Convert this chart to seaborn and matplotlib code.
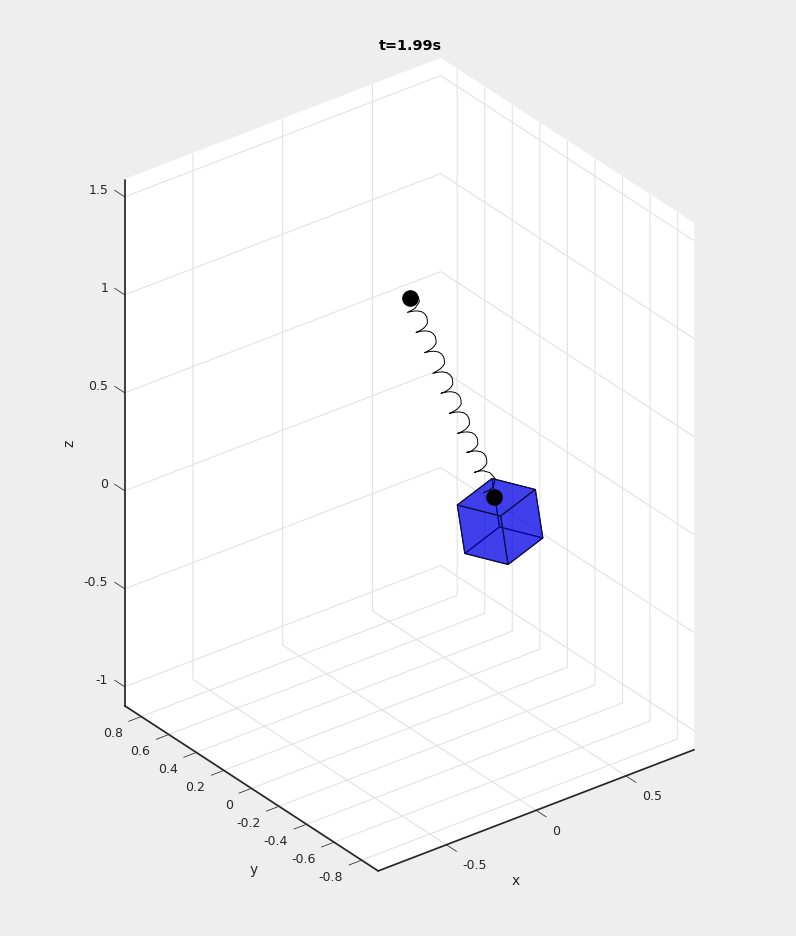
import matplotlib
matplotlib.use("Agg")
import matplotlib.pyplot as plt
import seaborn as sns
from mpl_toolkits.mplot3d import proj3d
from mpl_toolkits.mplot3d.art3d import Poly3DCollection

# spring, lying in the plane y=0
spring_x = [0.0498, 0.0554, 0.0312, -0.0115,
            0.0219, 0.0442, 0.0684, 0.0851, 0.0963, 0.1000, 0.1000, 0.0907, 0.0777, 0.0572, 0.0368,
            0.0702, 0.0925, 0.1167, 0.1334, 0.1446, 0.1483, 0.1483, 0.1390, 0.1260, 0.1055, 0.0833,
            0.1167, 0.1390, 0.1632, 0.1799, 0.1911, 0.1948, 0.1948, 0.1855, 0.1725, 0.1520, 0.1297,
            0.1631, 0.1854, 0.2096, 0.2263, 0.2375, 0.2412, 0.2412, 0.2319, 0.2189, 0.1984, 0.1762,
            0.2096, 0.2319, 0.2561, 0.2728, 0.2840, 0.2877, 0.2877, 0.2784, 0.2654, 0.2449, 0.2226,
            0.2560, 0.2783, 0.3025, 0.3192, 0.3304, 0.3341, 0.3341, 0.3248, 0.3118, 0.2913, 0.2691,
            0.3025, 0.3248, 0.3490, 0.3657, 0.3769, 0.3806, 0.3806, 0.3713, 0.3583, 0.3378, 0.3192,
            0.3526, 0.3749, 0.3991, 0.4158, 0.4270, 0.4307, 0.4307, 0.4214, 0.4084, 0.3879, 0.3620,
            0.3900, 0.4121, 0.4493, 0.4772, 0.4679, 0.4456, 0.4121]
spring_z = [1.0847, 1.0572, 1.0317, 1.0263,
            1.0213, 1.0144, 1.0016, 0.9855, 0.9663, 0.9480, 0.9310, 0.9206, 0.9133, 0.9086, 0.9073,
            0.9023, 0.8954, 0.8826, 0.8665, 0.8473, 0.8290, 0.8120, 0.8016, 0.7943, 0.7896, 0.7872,
            0.7822, 0.7753, 0.7625, 0.7464, 0.7272, 0.7089, 0.6919, 0.6815, 0.6742, 0.6695, 0.6654,
            0.6604, 0.6535, 0.6407, 0.6246, 0.6054, 0.5871, 0.5701, 0.5597, 0.5524, 0.5477, 0.5480,
            0.5430, 0.5361, 0.5233, 0.5072, 0.4880, 0.4697, 0.4527, 0.4423, 0.4350, 0.4303, 0.4286,
            0.4236, 0.4167, 0.4039, 0.3878, 0.3686, 0.3503, 0.3333, 0.3229, 0.3156, 0.3109, 0.3103,
            0.3053, 0.2984, 0.2856, 0.2695, 0.2503, 0.2320, 0.2150, 0.2046, 0.1973, 0.1926, 0.1956,
            0.1906, 0.1837, 0.1709, 0.1548, 0.1356, 0.1173, 0.1003, 0.0899, 0.0826, 0.0779, 0.0786,
            0.0760, 0.0694, 0.0462, 0.0074, -0.0318, -0.0409, -0.0429]
spring_y = [0.0] * len(spring_x)

# the two black balls
ball_x = [0.0045, 0.4735]
ball_y = [0.0, 0.0]
ball_z = [1.0940, -0.0849]

# cube corners
cube_x = [0.6081, 0.5837, 0.6663, 0.3681, 0.6419, 0.3437, 0.4263, 0.4019]
cube_y = [0.1385, 0.1610, -0.1001, 0.0776, -0.0776, 0.1001, -0.1610, -0.1385]
cube_z = [-0.3496, -0.1041, -0.3170, -0.3726, -0.0715, -0.1271, -0.3400, -0.0945]
cube_faces = [[0, 1, 4, 2], [0, 2, 6, 3], [0, 3, 5, 1],
              [7, 5, 1, 4], [7, 4, 2, 6], [7, 6, 3, 5]]

xticks = [-0.5, 0, 0.5]
yticks = [-0.8, -0.6, -0.4, -0.2, 0, 0.2, 0.4, 0.6, 0.8]
zticks = [-1, -0.5, 0, 0.5, 1, 1.5]
xticklabels = ["-0.5", "0", "0.5"]
yticklabels = ["-0.8", "-0.6", "-0.4", "-0.2", "0", "0.2", "0.4", "0.6", "0.8"]
zticklabels = ["-1", "-0.5", "0", "0.5", "1", "1.5"]
xlim = (-0.88, 0.88)
ylim = (-0.92, 0.92)
zlim = (-1.097, 1.587)

sns.set_theme(style="white", font="DejaVu Sans",
              rc={"figure.facecolor": "#EEEEEE", "text.color": "#262626"})

fig = plt.figure(figsize=(7.96, 9.36), dpi=100)
ax = fig.add_axes([0.65 / 796, 62.5 / 936, 1.0, 796 / 936], projection="3d",
                  proj_type="ortho", computed_zorder=False)
ax.view_init(elev=30, azim=-127.5)
ax.set_box_aspect((1.76, 1.84, 2.684), zoom=1.021)
ax.set_xlim(*xlim)
ax.set_ylim(*ylim)
ax.set_zlim(*zlim)
ax.set_xticks(xticks)
ax.set_yticks(yticks)
ax.set_zticks(zticks)
ax.patch.set_alpha(0)

# z ticks point along y in the original, not along x
ax.zaxis._get_tickdir = lambda pos: 1

for axis in [ax.xaxis, ax.yaxis, ax.zaxis]:
    axis.set_ticklabels([])
    axis.set_pane_color((1, 1, 1, 1))
    axis.pane.set_edgecolor("white")
    axis._axinfo["grid"].update(color="#E2E2E2", linewidth=0.8)
    axis._axinfo["axisline"].update(color="#262626", linewidth=0.7)
    axis._axinfo["tick"].update(inward_factor=0.0, outward_factor=-0.5,
                                linewidth={True: 0.55, False: 0.4})
ax.zaxis._axinfo["tick"].update(outward_factor=0.5)
ax.tick_params(colors="#262626")


# tick labels sit at a fixed pixel offset from the end of the axis tick
def tick_text(labels, xs, ys, zs, dx, dy, ha):
    for lab, x3, y3, z3 in zip(labels, xs, ys, zs):
        px, py, _ = proj3d.proj_transform(x3, y3, z3, ax.get_proj())
        ax.annotate(lab, xy=(px, py), xytext=(dx, dy), textcoords="offset pixels",
                    fontsize=9, color="#262626", ha=ha, va="center", annotation_clip=False)


tick_text(xticklabels, xticks, [ylim[0]] * 3, [zlim[0]] * 3, 16, -21, "left")
tick_text(yticklabels, [xlim[0]] * 9, yticks, [zlim[0]] * 9, -18.5, -17, "right")
tick_text(zticklabels, [xlim[0]] * 6, [ylim[1]] * 6, zticks, -16.5, 6, "right")

faces = [[(cube_x[i], cube_y[i], cube_z[i]) for i in f] for f in cube_faces]
cube = Poly3DCollection(faces, facecolors=(0, 0, 0.9, 0.5), edgecolors="#101040",
                        linewidths=0.8, zorder=3)
ax.add_collection3d(cube)
ax.plot(spring_x, spring_y, spring_z, color="black", lw=0.7, zorder=4)
ax.scatter(ball_x, ball_y, ball_z, color="black", s=120, depthshade=False, zorder=5)

fig.text(516 / 796, 1 - 881 / 936, "x", fontsize=10, color="#262626", ha="center", va="center")
fig.text(254 / 796, 1 - 870 / 936, "y", fontsize=10, color="#262626", ha="center", va="center")
fig.text(69 / 796, 1 - 443 / 936, "z", fontsize=10, color="#262626", ha="center", va="center",
         rotation=90)
fig.text(410 / 796, 1 - 46 / 936, "t=1.99s", fontsize=10.4, fontweight="bold",
         color="black", ha="center", va="center")

fig.savefig("out.png", dpi=100, facecolor=fig.get_facecolor())
